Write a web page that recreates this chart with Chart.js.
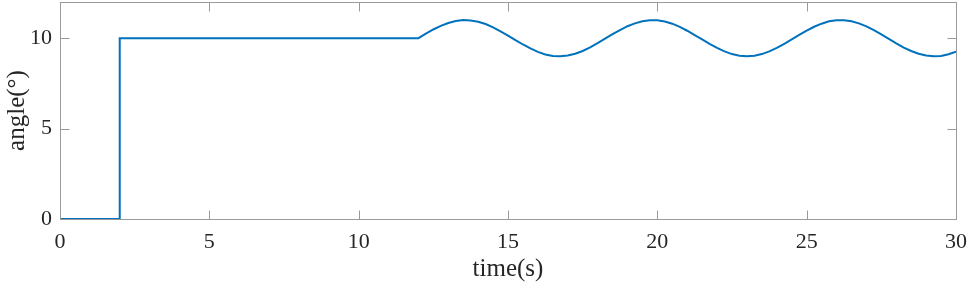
<!DOCTYPE html>
<html>
<head>
<meta charset="utf-8">
<script src="https://cdn.jsdelivr.net/npm/chart.js@4/dist/chart.umd.min.js"></script>
<style>
html,body{margin:0;padding:0;background:#fff;}
#wrap{width:969px;height:286px;}
</style>
</head>
<body>
<div id="wrap"><canvas id="c" width="969" height="286"></canvas></div>
<script>
// time (s) samples
const times = [0, 2, 2, 12,
  12.25, 12.5, 12.75, 13, 13.25, 13.5, 13.75, 14, 14.25, 14.5, 14.75, 15,
  15.25, 15.5, 15.75, 16, 16.25, 16.5, 16.75, 17, 17.25, 17.5, 17.75, 18,
  18.25, 18.5, 18.75, 19, 19.25, 19.5, 19.75, 20, 20.25, 20.5, 20.75, 21,
  21.25, 21.5, 21.75, 22, 22.25, 22.5, 22.75, 23, 23.25, 23.5, 23.75, 24,
  24.25, 24.5, 24.75, 25, 25.25, 25.5, 25.75, 26, 26.25, 26.5, 26.75, 27,
  27.25, 27.5, 27.75, 28, 28.25, 28.5, 28.75, 29, 29.25, 29.5, 29.75, 30];
// angle (deg) values
const angles = [0, 0, 10, 10,
  10.25, 10.48, 10.68, 10.84, 10.95, 11.00, 10.98, 10.91, 10.78, 10.60, 10.38, 10.14,
  9.89, 9.65, 9.43, 9.24, 9.10, 9.02, 9.00, 9.04, 9.14, 9.29, 9.49, 9.72,
  9.97, 10.22, 10.45, 10.66, 10.82, 10.94, 10.99, 10.99, 10.92, 10.80, 10.62, 10.41,
  10.17, 9.93, 9.68, 9.46, 9.27, 9.12, 9.03, 9.00, 9.03, 9.12, 9.27, 9.46,
  9.69, 9.93, 10.18, 10.42, 10.63, 10.80, 10.93, 10.99, 10.99, 10.94, 10.82, 10.65,
  10.44, 10.21, 9.96, 9.71, 9.48, 9.29, 9.14, 9.04, 9.00, 9.02, 9.11, 9.25];
const xTicks = [0, 5, 10, 15, 20, 25, 30];
const yTicks = [0, 5, 10];

const points = times.map((t, i) => ({x: t, y: angles[i]}));
const AXIS_COLOR = '#9a9a9a';
const TEXT_COLOR = '#262626';
const FAMILY = "'Liberation Serif', 'Times New Roman', serif";
const TICK_FONT = {family: FAMILY, size: 22};
const TITLE_FONT = {family: FAMILY, size: 25};

const boxPlugin = {
  id: 'matlabBox',
  afterDatasetsDraw(chart) {
    const {ctx, chartArea: a, scales: {x, y}} = chart;
    ctx.save();
    ctx.strokeStyle = AXIS_COLOR;
    ctx.lineWidth = 1;
    const L = Math.round(a.left) + 0.5, R = Math.round(a.right) + 0.5;
    const T = Math.round(a.top) + 0.5, B = Math.round(a.bottom) + 0.5;
    ctx.strokeRect(L, T, R - L, B - T);
    const tl = 9;
    ctx.beginPath();
    xTicks.forEach(v => {
      const px = Math.round(x.getPixelForValue(v)) + 0.5;
      ctx.moveTo(px, B); ctx.lineTo(px, B - tl);
      ctx.moveTo(px, T); ctx.lineTo(px, T + tl);
    });
    yTicks.forEach(v => {
      const py = Math.round(y.getPixelForValue(v)) + 0.5;
      ctx.moveTo(L, py); ctx.lineTo(L + tl, py);
      ctx.moveTo(R, py); ctx.lineTo(R - tl, py);
    });
    ctx.stroke();
    ctx.restore();
  }
};

function zeroPad(s) {
  s.paddingLeft = 0; s.paddingRight = 0; s.paddingTop = 0; s.paddingBottom = 0;
}

new Chart(document.getElementById('c'), {
  type: 'line',
  data: {
    datasets: [{
      data: points,
      borderColor: '#0072BD',
      borderWidth: 2,
      pointRadius: 0,
      tension: 0,
      fill: false
    }]
  },
  options: {
    responsive: false,
    animation: false,
    devicePixelRatio: 1,
    layout: {padding: {top: 2, right: 13, left: 0, bottom: 0}},
    plugins: {legend: {display: false}, tooltip: {enabled: false}},
    scales: {
      x: {
        type: 'linear', min: 0, max: 30,
        grid: {display: false, drawTicks: false},
        border: {display: false},
        afterBuildTicks: s => { s.ticks = xTicks.map(v => ({value: v})); },
        afterFit: s => { s.height = 67; zeroPad(s); },
        ticks: {color: TEXT_COLOR, font: TICK_FONT, padding: 10, maxRotation: 0, autoSkip: false},
        title: {display: true, text: 'time(s)', color: TEXT_COLOR, font: TITLE_FONT, padding: {top: 0, bottom: 2}}
      },
      y: {
        type: 'linear', min: 0, max: 12,
        grid: {display: false, drawTicks: false},
        border: {display: false},
        afterBuildTicks: s => { s.ticks = yTicks.map(v => ({value: v})); },
        afterFit: s => { s.width = 60; zeroPad(s); },
        ticks: {color: TEXT_COLOR, font: TICK_FONT, padding: 8},
        title: {display: true, text: 'angle(°)', color: TEXT_COLOR, font: TITLE_FONT, padding: {top: 2, bottom: 0}}
      }
    }
  },
  plugins: [boxPlugin]
});
</script>
</body>
</html>
